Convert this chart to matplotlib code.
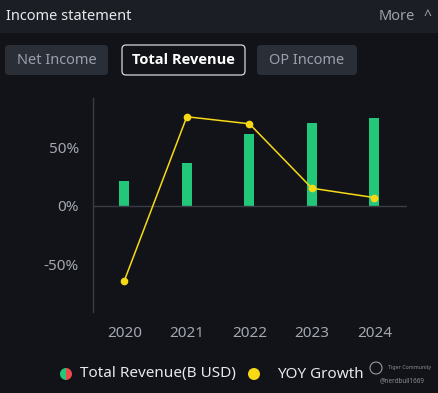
import matplotlib
matplotlib.use("Agg")
import matplotlib.pyplot as plt
from matplotlib.patches import FancyBboxPatch, Rectangle, Wedge, Circle
from matplotlib.transforms import IdentityTransform

# data
years = ['2020', '2021', '2022', '2023', '2024']
revenue = [2.5, 4.3, 7.3, 8.4, 8.9]          # B USD (hidden axis)
yoy_growth = [-64, 76, 70, 15, 7]              # %
yticks = [-50, 0, 50]
ytick_labels = ['-50%', '0%', '50%']
tabs = ['Net Income', 'Total Revenue', 'OP Income']

W, H = 439, 393
BG = '#111318'
HEADER = '#1b1e24'
BTN = '#2a2e37'
GREEN = '#22c77a'
YELLOW = '#f7d916'
GREY = '#a3a7b0'

plt.rcParams['font.family'] = ['Noto Sans', 'DejaVu Sans']

fig = plt.figure(figsize=(W / 100, H / 100), dpi=100, facecolor=BG)
ident = IdentityTransform()


def fy(y):
    # top-left pixel y -> display y
    return H - y


# header bar
fig.add_artist(Rectangle((0, fy(33)), W, 33, transform=ident,
                         facecolor=HEADER, edgecolor='none'))
fig.text(6 / W, 1 - 16 / H, 'Income statement', color='#e8e9ec',
         fontsize=10.5, va='center', ha='left')
fig.text(415 / W, 1 - 16 / H, 'More', color='#9ea2ab',
         fontsize=10.5, va='center', ha='right')
fig.text(427 / W, 1 - 16 / H, '^', color='#9ea2ab',
         fontsize=10, va='center', ha='center')

# tab buttons
btn_boxes = [(5, 108), (122, 245), (257, 357)]
for (x0, x1), label in zip(btn_boxes, tabs):
    active = label == 'Total Revenue'
    box = FancyBboxPatch((x0, fy(75)), x1 - x0, 30,
                         boxstyle='round,pad=0,rounding_size=4',
                         transform=ident,
                         facecolor=BG if active else BTN,
                         edgecolor='#d8d9dc' if active else 'none',
                         linewidth=0.9)
    fig.add_artist(box)
    if active:
        fig.text((x0 + x1) / 2 / W, 1 - 60 / H, label, color='white',
                 fontsize=10.5, fontweight='bold',
                 family=['Open Sans', 'DejaVu Sans'],
                 ha='center', va='center')
    else:
        fig.text((x0 + x1) / 2 / W, 1 - 60 / H, label, color='#9aa0ab',
                 fontsize=10.5, ha='center', va='center')

# main chart
ax = fig.add_axes([93 / W, 1 - 312 / H, (407 - 93) / W, (312 - 98) / H])
ax.set_facecolor(BG)
x = list(range(len(years)))

ax2 = ax.twinx()
ax2.bar(x, revenue, width=0.16, color=GREEN, zorder=2)
# align revenue zero with growth zero: growth range (-90.6, 92)
ax2.set_ylim(-90.6 / 92 * 10.9, 10.9)
ax2.axis('off')

ax.set_zorder(ax2.get_zorder() + 1)
ax.patch.set_visible(False)
ax.axhline(0, color='#3a3d46', linewidth=1, zorder=1)
ax.plot(x, yoy_growth, color=YELLOW, linewidth=1.1, marker='o',
        markersize=4.5, zorder=3)

ax.set_xlim(-0.5, 4.52)
ax.set_ylim(-90.6, 92)
ax.set_xticks(x)
ax.set_xticklabels(years)
ax.set_yticks(yticks)
ax.set_yticklabels(ytick_labels)
ax.tick_params(colors=GREY, labelsize=11, length=0, pad=10)
for s in ['top', 'right', 'bottom']:
    ax.spines[s].set_visible(False)
ax.spines['left'].set_color('#3a3d46')
ax.spines['left'].set_linewidth(1)

# legend
cx, cy = 66, fy(374)
fig.add_artist(Wedge((cx, cy), 6, 90, 270, transform=ident,
                     facecolor=GREEN, edgecolor='none'))
fig.add_artist(Wedge((cx, cy), 6, -90, 90, transform=ident,
                     facecolor='#ef4a4a', edgecolor='none'))
fig.text(80 / W, 1 - 374 / H, 'Total Revenue(B USD)', color='#e8e9ec',
         fontsize=11, ha='left', va='center')
fig.add_artist(Circle((254, fy(374)), 6, transform=ident,
                      facecolor=YELLOW, edgecolor='none'))
fig.text(277 / W, 1 - 374 / H, 'YOY Growth', color='#e8e9ec',
         fontsize=11, ha='left', va='center')

# watermark
fig.add_artist(Circle((376, fy(368)), 6, transform=ident,
                      facecolor='none', edgecolor='#9a9ca2', linewidth=0.8))
fig.text(388 / W, 1 - 367 / H, 'Tiger Community', color='#8e9097',
         fontsize=3.8, ha='left', va='center')
fig.text(380 / W, 1 - 381 / H, '@nerdbull1669', color='#8e9097',
         fontsize=4.5, ha='left', va='center')

fig.savefig('out.png', dpi=100, facecolor=BG)
